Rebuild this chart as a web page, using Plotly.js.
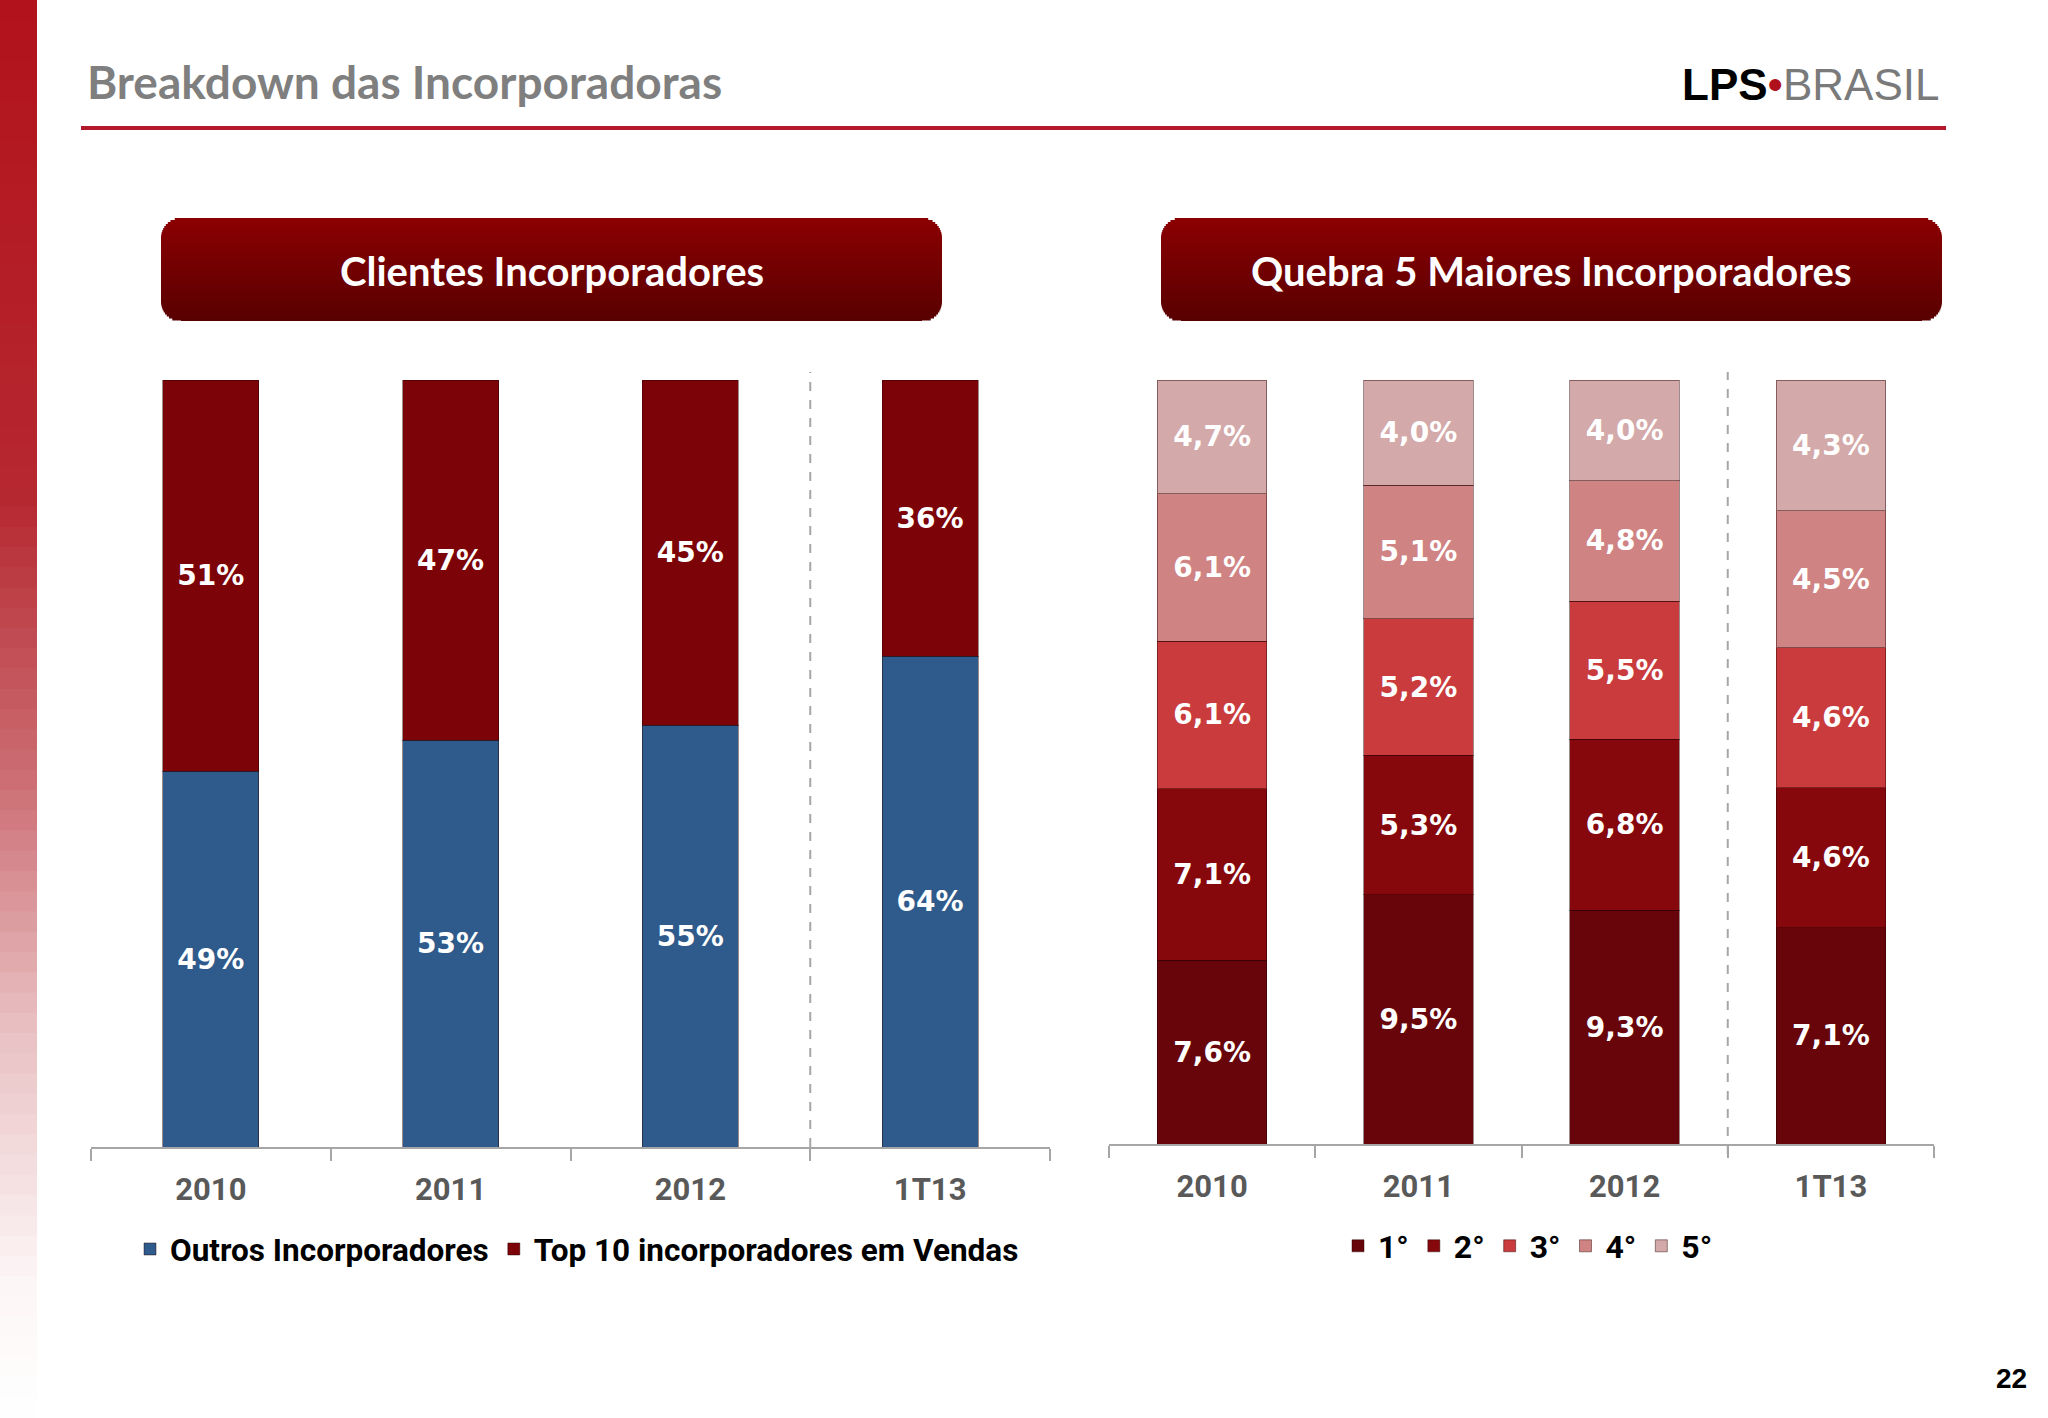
<!DOCTYPE html>
<html>
<head>
<meta charset="utf-8">
<script src="https://cdn.plot.ly/plotly-3.0.1.min.js"></script>
<style>
  html, body { margin: 0; padding: 0; background: #ffffff; }
  #chart { width: 2048px; height: 1418px; }
</style>
</head>
<body>
<div id="chart"></div>
<script>
// ---- data ----
const categories = ['2010', '2011', '2012', '1T13'];
const outrosIncorporadores = [49, 53, 55, 64];
const top10Incorporadores = [51, 47, 45, 36];
const rank1 = [7.6, 9.5, 9.3, 7.1];
const rank2 = [7.1, 5.3, 6.8, 4.6];
const rank3 = [6.1, 5.2, 5.5, 4.6];
const rank4 = [6.1, 5.1, 4.8, 4.5];
const rank5 = [4.7, 4.0, 4.0, 4.3];
const rankNames = ['1°', '2°', '3°', '4°', '5°'];
const leftSeriesNames = ['Outros Incorporadores', 'Top 10 incorporadores em Vendas'];

// ---- helpers ----
const W = 2048, H = 1418;
const X = px => px / W;
const Y = py => 1 - py / H;
const pct0 = v => v + '%';
const pct1 = v => v.toFixed(1).replace('.', ',') + '%';

const narrow = "Roboto, 'Liberation Sans', sans-serif";
const labelFont = { family: "'DejaVu Sans', Verdana, sans-serif", size: 28, color: '#ffffff', weight: 'bold' };

function barTrace(name, vals, color, xa, ya, legend, width, fmt) {
  return {
    type: 'bar', name: name, x: categories, y: vals, xaxis: xa, yaxis: ya, legend: legend,
    width: width,
    marker: { color: color, line: { color: 'rgba(40,0,0,0.45)', width: 1 } },
    text: vals.map(fmt), textposition: 'inside', insidetextanchor: 'middle',
    textangle: 0, constraintext: 'none', textfont: labelFont, hoverinfo: 'skip'
  };
}

const rankColors = ['#67050a', '#86080d', '#c93b3d', '#cf8383', '#d3a9a9'];
const rankData = [rank1, rank2, rank3, rank4, rank5];

const traces = [
  barTrace(leftSeriesNames[0], outrosIncorporadores, '#2f5a8c', 'x', 'y', 'legend', 0.4, pct0),
  barTrace(leftSeriesNames[1], top10Incorporadores, '#7c0307', 'x', 'y', 'legend', 0.4, pct0)
];
rankData.forEach((d, i) => traces.push(barTrace(rankNames[i], d, rankColors[i], 'x2', 'y2', 'legend2', 0.53, pct1)));

// ---- decorative shapes ----
const shapes = [];
function lerpColor(stops, t) {
  for (let k = 0; k < stops.length - 1; k++) {
    const a = stops[k], b = stops[k + 1];
    if (t >= a[0] && t <= b[0]) {
      const f = (t - a[0]) / (b[0] - a[0]);
      const c = a[1].map((v, j) => Math.round(v + (b[1][j] - v) * f));
      return 'rgb(' + c.join(',') + ')';
    }
  }
  return 'rgb(' + stops[stops.length - 1][1].join(',') + ')';
}
// left vertical gradient strip
const stripStops = [[0, [178, 18, 27]], [0.35, [182, 40, 48]], [0.55, [204, 110, 116]], [0.72, [232, 190, 193]], [0.9, [252, 245, 245]], [1, [255, 255, 255]]];
const nb = 70;
for (let k = 0; k < nb; k++) {
  const y0 = k * H / nb, y1 = (k + 1) * H / nb + 1;
  shapes.push({ type: 'rect', xref: 'paper', yref: 'paper', x0: 0, x1: X(37), y0: Y(y1), y1: Y(y0),
    fillcolor: lerpColor(stripStops, (k + 0.5) / nb), line: { width: 0 }, layer: 'below' });
}
// title underline
shapes.push({ type: 'line', xref: 'paper', yref: 'paper', x0: X(81), x1: X(1946), y0: Y(128), y1: Y(128),
  line: { color: '#b3182c', width: 4 } });
// header boxes: rounded rectangles with vertical gradient, built from thin rows
const headStops = [[0, [140, 0, 2]], [1, [88, 0, 0]]];
function gradientRoundBox(x0, y0, x1, y1, r) {
  const step = 2;
  for (let y = y0; y < y1; y += step) {
    const ym = y + step / 2;
    let inset = 0;
    if (ym < y0 + r) { const d = y0 + r - ym; inset = r - Math.sqrt(Math.max(0, r * r - d * d)); }
    else if (ym > y1 - r) { const d = ym - (y1 - r); inset = r - Math.sqrt(Math.max(0, r * r - d * d)); }
    shapes.push({ type: 'rect', xref: 'paper', yref: 'paper', x0: X(x0 + inset), x1: X(x1 - inset),
      y0: Y(Math.min(y + step + 0.6, y1)), y1: Y(y), fillcolor: lerpColor(headStops, (ym - y0) / (y1 - y0)),
      line: { width: 0 }, layer: 'below' });
  }
}
gradientRoundBox(161, 218, 942, 321, 20);
gradientRoundBox(1161, 218, 1942, 321, 20);
// dashed separators between 2012 and 1T13
shapes.push({ type: 'line', xref: 'x', yref: 'paper', x0: 2.5, x1: 2.5, y0: Y(1147), y1: Y(372),
  line: { color: '#a6a6a6', width: 2, dash: 'dash' } });
shapes.push({ type: 'line', xref: 'x2', yref: 'paper', x0: 2.5, x1: 2.5, y0: Y(1154), y1: Y(372),
  line: { color: '#a6a6a6', width: 2, dash: 'dash' } });

const annotations = [
  { text: '<b>Breakdown das Incorporadoras</b>', xref: 'paper', yref: 'paper', x: X(85), y: Y(81),
    xanchor: 'left', yanchor: 'middle', showarrow: false,
    font: { family: 'Lato, sans-serif', size: 46, color: '#7f7f7f' } },
  { text: '<b>LPS</b><span style="color:#b0101c">•</span><span style="color:#7a7a7a">BRASIL</span>',
    xref: 'paper', yref: 'paper', x: X(1942), y: Y(84), xanchor: 'right', yanchor: 'middle', showarrow: false,
    font: { family: "'Liberation Sans', Arial, sans-serif", size: 44, color: '#000000' } },
  { text: '<b>Clientes Incorporadores</b>', xref: 'paper', yref: 'paper', x: X(551.5), y: Y(271),
    xanchor: 'center', yanchor: 'middle', showarrow: false,
    font: { family: 'Lato, sans-serif', size: 40, color: '#ffffff' } },
  { text: '<b>Quebra 5 Maiores Incorporadores</b>', xref: 'paper', yref: 'paper', x: X(1551.5), y: Y(271),
    xanchor: 'center', yanchor: 'middle', showarrow: false,
    font: { family: 'Lato, sans-serif', size: 40, color: '#ffffff' } },
  { text: '<b>22</b>', xref: 'paper', yref: 'paper', x: X(2011), y: Y(1378),
    xanchor: 'center', yanchor: 'middle', showarrow: false,
    font: { family: "'Liberation Sans', Arial, sans-serif", size: 28, color: '#000000' } }
];

const xaxisBase = {
  type: 'category', showline: true, linecolor: '#a6a6a6', linewidth: 2,
  ticks: 'outside', tickson: 'boundaries', ticklen: 12, tickcolor: '#a6a6a6', tickwidth: 2,
  showgrid: false, zeroline: false, fixedrange: true, ticklabelstandoff: 14,
  tickfont: { family: narrow, size: 31, color: '#595959', weight: 'bold' }
};
const yaxisBase = { range: [0, 100], visible: false, fixedrange: true, showgrid: false, zeroline: false };

const layout = {
  width: W, height: H, margin: { l: 0, r: 0, t: 0, b: 0 },
  paper_bgcolor: '#ffffff', plot_bgcolor: 'rgba(0,0,0,0)',
  barmode: 'stack', barnorm: 'percent', showlegend: true,
  xaxis: Object.assign({}, xaxisBase, { domain: [X(91), X(1050)], anchor: 'y' }),
  yaxis: Object.assign({}, yaxisBase, { domain: [Y(1147), Y(380)], anchor: 'x' }),
  xaxis2: Object.assign({}, xaxisBase, { domain: [X(1109), X(1934)], anchor: 'y2' }),
  yaxis2: Object.assign({}, yaxisBase, { domain: [Y(1144), Y(380)], anchor: 'x2' }),
  legend: { orientation: 'h', x: X(130), y: Y(1249), xanchor: 'left', yanchor: 'middle',
    traceorder: 'normal', bgcolor: 'rgba(0,0,0,0)', itemwidth: 30,
    font: { family: narrow, size: 31.5, color: '#000000', weight: 'bold' } },
  legend2: { orientation: 'h', x: X(1528), y: Y(1246), xanchor: 'center', yanchor: 'middle',
    traceorder: 'normal', bgcolor: 'rgba(0,0,0,0)', itemwidth: 30,
    font: { family: narrow, size: 32, color: '#000000', weight: 'bold' } },
  shapes: shapes, annotations: annotations, hovermode: false
};

Plotly.newPlot('chart', traces, layout, { displayModeBar: false, staticPlot: true });
</script>
</body>
</html>
